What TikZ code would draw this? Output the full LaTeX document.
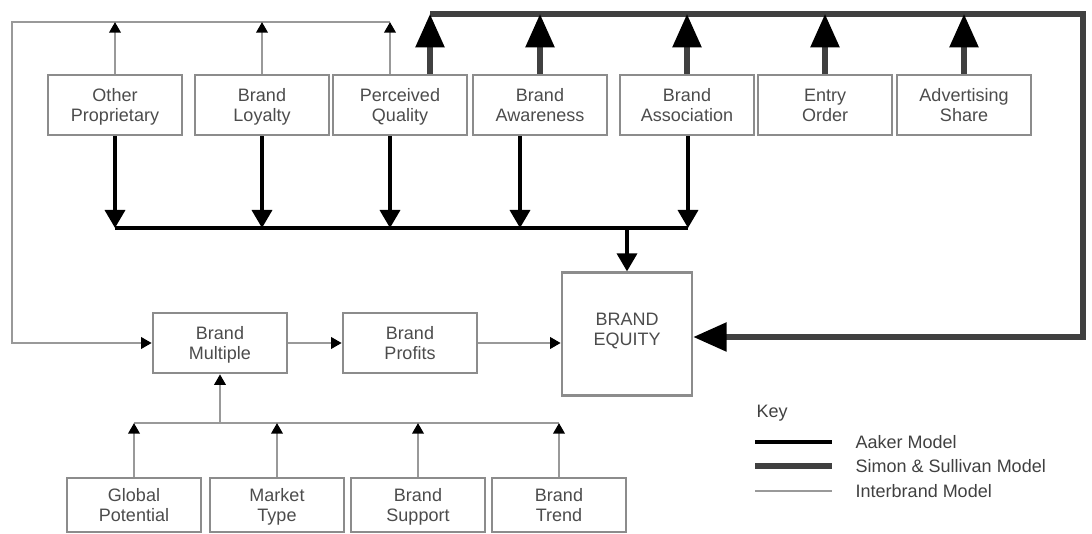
\documentclass[tikz,border=0pt]{standalone}
\usepackage{fontspec}
\setmainfont{Liberation Sans}
\usetikzlibrary{arrows.meta,calc}
\newcommand{\twoline}[3][4.5pt]{\rule{0pt}{14pt}#2\\#3\rule[-#1]{0pt}{#1}}

\begin{document}
\begin{tikzpicture}[x=0.75pt,y=-0.75pt,line join=miter,
  box/.style={draw=black!45,line width=1.9pt,fill=white,align=center,
    minimum width=100.5pt,minimum height=45pt,inner sep=0pt,
    text=black!70,font=\fontsize{13.5}{15}\selectfont},
  ib/.style={draw=black!40,line width=1.9pt},
  ibarr/.style={ib,-{Triangle[length=8pt,width=8.5pt,color=black,fill=black]}},
  ak/.style={draw=black,line width=2.6pt},
  akarr/.style={ak,-{Triangle[length=13.5pt,width=15pt]}},
  ss/.style={draw=black!75,line width=4.1pt},
  ssarr/.style={ss,-{Triangle[length=25pt,width=21pt,color=black,fill=black]}},
  keytxt/.style={anchor=west,text=black!75,font=\fontsize{13.5}{15}\selectfont}]
  \useasboundingbox (0,0) rectangle (1092,534);
  % drivers on top row
  \node[box] (OP) at (115,105) {\twoline{Other}{Proprietary}};
  \node[box] (BL) at (262,105) {\twoline{Brand}{Loyalty}};
  \node[box] (PQ) at (400,105) {\twoline{Perceived}{Quality}};
  \node[box] (BA) at (540,105) {\twoline{Brand}{Awareness}};
  \node[box] (BS) at (687,105) {\twoline{Brand}{Association}};
  \node[box] (EO) at (825,105) {\twoline{Entry}{Order}};
  \node[box] (AS) at (964,105) {\twoline{Advertising}{Share}};
  % centre
  \node[box,minimum width=97.5pt,minimum height=92pt] (BE) at (627,334) {\twoline[12pt]{BRAND}{EQUITY}};
  \node[box] (BM) at (220,343) {\twoline{Brand}{Multiple}};
  \node[box] (BP) at (410,343) {\twoline{Brand}{Profits}};
  % bottom row
  \node[box,minimum height=40.5pt] (GP) at (134,505) {\twoline{Global}{Potential}};
  \node[box,minimum height=40.5pt] (MT) at (277,505) {\twoline{Market}{Type}};
  \node[box,minimum height=40.5pt] (SU) at (418,505) {\twoline{Brand}{Support}};
  \node[box,minimum height=40.5pt] (TR) at (559,505) {\twoline{Brand}{Trend}};
  \coordinate (IB0) at (12,22);
  \coordinate (SS0) at (430,14);
  \coordinate (SS1) at (1083,14);
  \coordinate (SS2) at (1083,337);
  \coordinate (AK) at (0,228);
  \coordinate (BB) at (0,423);
  \coordinate (PQi) at ($(PQ.north)+(-10,0)$);
  \coordinate (PQs) at ($(PQ.north)+(30,0)$);
  \coordinate (PQa) at ($(PQ.south)+(-10,0)$);
  \coordinate (BAa) at ($(BA.south)+(-20,0)$);
  \coordinate (BSa) at ($(BS.south)+(1,0)$);
  % Interbrand
  \draw[ibarr] (PQi |- IB0) -- (IB0) -- (IB0 |- BM.west) -- (BM.west);
  \draw[ibarr] (OP.north) -- (OP.north |- IB0);
  \draw[ibarr] (BL.north) -- (BL.north |- IB0);
  \draw[ibarr] (PQi) -- (PQi |- IB0);
  \draw[ib] (GP.north |- BB) -- (TR.north |- BB);
  \draw[ibarr] (GP.north) -- (GP.north |- BB);
  \draw[ibarr] (MT.north) -- (MT.north |- BB);
  \draw[ibarr] (SU.north) -- (SU.north |- BB);
  \draw[ibarr] (TR.north) -- (TR.north |- BB);
  \draw[ibarr] (BM.south |- BB) -- (BM.south);
  \draw[ibarr] (BM.east) -- (BP.west);
  \draw[ibarr] (BP.east) -- (BP.east -| BE.west);
  % Aaker
  \draw[ak] (OP.south |- AK) -- (BSa |- AK);
  \draw[akarr] (OP.south) -- (OP.south |- AK);
  \draw[akarr] (BL.south) -- (BL.south |- AK);
  \draw[akarr] (PQa) -- (PQa |- AK);
  \draw[akarr] (BAa) -- (BAa |- AK);
  \draw[akarr] (BSa) -- (BSa |- AK);
  \draw[akarr] (BE.north |- AK) -- (BE.north);
  % Simon & Sullivan
  \draw[ssarr] (SS0) -- (SS1) -- (SS2) -- (SS2 -| BE.east);
  \draw[ssarr] (PQs) -- (PQs |- SS0);
  \draw[ssarr] (BA.north) -- (BA.north |- SS0);
  \draw[ssarr] (BS.north) -- (BS.north |- SS0);
  \draw[ssarr] (EO.north) -- (EO.north |- SS0);
  \draw[ssarr] (AS.north) -- (AS.north |- SS0);
  % key
  \node[keytxt] (KEY) at (752,413) {Key};
  \coordinate (K1) at (755,442);
  \coordinate (K2) at (755,466);
  \coordinate (K3) at (755,491);
  \draw[ak] (K1) -- ++(77,0);
  \draw[ss] (K2) -- ++(77,0);
  \draw[ib] (K3) -- ++(77,0);
  \node[keytxt] (KA) at (851,442) {Aaker Model};
  \node[keytxt] (KS) at (851,466) {Simon \& Sullivan Model};
  \node[keytxt] (KI) at (851,491) {Interbrand Model};
\end{tikzpicture}
\end{document}
